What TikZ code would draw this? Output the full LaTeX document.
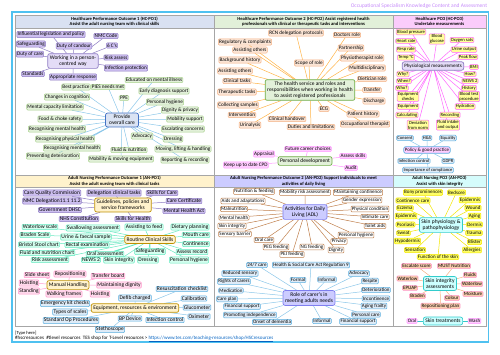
\documentclass[tikz,border=0pt]{standalone}
\usepackage{fontspec}
\setmainfont{Carlito}
\usepackage{xcolor}
\definecolor{osktitle}{HTML}{C58AF9}
\definecolor{oskframe}{HTML}{4FC1F0}
\definecolor{oskgrid}{HTML}{A6A6A6}
\definecolor{oskurl}{HTML}{0563C1}
\definecolor{oskhdA}{HTML}{D9E1F2}
\definecolor{oskhdB}{HTML}{E2F0D9}
\definecolor{oskhdC}{HTML}{FBCCFB}
\definecolor{oskhdD}{HTML}{FFF2CC}
\definecolor{oskhdE}{HTML}{CCCCFF}
\definecolor{oskhdF}{HTML}{D5FCFC}
\definecolor{oskviolet}{HTML}{8E7CC3}
\definecolor{oskvioletbg}{HTML}{CDBFF0}
\definecolor{oskblue}{HTML}{4472C4}
\definecolor{oskbluebg}{HTML}{DAE3F3}
\definecolor{oskgreen}{HTML}{70AD47}
\definecolor{oskgreenln}{HTML}{A9D18E}
\definecolor{oskgreenbg}{HTML}{E2F0D9}
\definecolor{oskorange}{HTML}{F4B183}
\definecolor{oskorangeln}{HTML}{FFB347}
\definecolor{oskorangebg}{HTML}{FBE5D6}
\definecolor{oskpink}{HTML}{FF99FF}
\definecolor{oskpinkbg}{HTML}{FFCCFF}
\definecolor{oskmagenta}{HTML}{FF66FF}
\definecolor{oskyellowbg}{HTML}{FFFF99}
\definecolor{oskskyln}{HTML}{5BAFE0}
\definecolor{oskskybg}{HTML}{DEEBF7}
\definecolor{oskgold}{HTML}{BF9000}
\definecolor{oskcream}{HTML}{FFF2CC}
\definecolor{oskmint}{HTML}{66E8C0}
\definecolor{oskmintbg}{HTML}{D5FFF0}
\definecolor{oskrose}{HTML}{FF99CC}
\definecolor{oskrosebg}{HTML}{FFD9EC}
\definecolor{osklav}{HTML}{7F7FEF}
\definecolor{osklavbg}{HTML}{CCCCFF}
\definecolor{oskbrown}{HTML}{C0804D}
\definecolor{oskcyan}{HTML}{33CCCC}
\definecolor{oskcyanbg}{HTML}{CCFFFF}
\definecolor{osklemon}{HTML}{F2E600}
\definecolor{osklemonbg}{HTML}{FFFF66}
\definecolor{oskpeachbg}{HTML}{F8CBAD}
\usetikzlibrary{backgrounds}
\tikzset{
  oskhub/.style={draw,rounded corners=2pt,align=center,inner sep=2pt,line width=0.7pt,font=\fontsize{5.5}{6}\selectfont},
  osksat/.style={draw,rounded corners=1pt,align=center,inner sep=0.8pt,line width=0.5pt,font=\fontsize{5.2}{5.4}\selectfont},
  oskhead/.style={draw=oskgrid,line width=0.6pt,align=center,inner sep=0.5pt,font=\bfseries\fontsize{4.6}{5.3}\selectfont},
  oskgridline/.style={draw=oskgrid,line width=0.6pt},
  oskedge/.style={line width=0.5pt},
  hubviolet/.style={oskhub,fill=oskvioletbg!55,draw=oskviolet},
  hubblue/.style={oskhub,fill=oskbluebg,draw=oskblue},
  hubgreen/.style={oskhub,fill=oskgreenbg,draw=oskgreen},
  hubpink/.style={oskhub,fill=oskpinkbg,draw=oskskyln},
  hubcream/.style={oskhub,fill=oskcream,draw=oskgold},
  hublav/.style={oskhub,fill=osklavbg,draw=osklav},
  hubcyan/.style={oskhub,fill=oskcyanbg,draw=oskcyan},
  satviolet/.style={osksat,fill=oskvioletbg,draw=oskviolet},
  satgreen/.style={osksat,fill=oskgreenbg,draw=oskgreenln},
  satorange/.style={osksat,fill=oskorangebg,draw=oskorange},
  satpink/.style={osksat,fill=oskpinkbg,draw=oskpink},
  satyellow/.style={osksat,fill=oskyellowbg,draw=oskmagenta},
  satsky/.style={osksat,fill=oskskybg,draw=oskskyln},
  satmint/.style={osksat,fill=oskmintbg,draw=oskmint},
  satrose/.style={osksat,fill=oskrosebg,draw=oskrose},
  satbrown/.style={osksat,fill=white,draw=oskbrown},
  satlemon/.style={osksat,fill=osklemonbg,draw=osklemon},
  satpeach/.style={osksat,fill=oskpeachbg,draw=oskrose},
  edgeviolet/.style={oskedge,draw=oskviolet},
  edgesky/.style={oskedge,draw=oskskyln!70},
  edgeorange/.style={oskedge,draw=oskorangeln},
  edgepink/.style={oskedge,draw=oskpink},
  edgemagenta/.style={oskedge,draw=oskmagenta},
  edgemint/.style={oskedge,draw=oskmint},
  edgerose/.style={oskedge,draw=oskrose},
  edgebrown/.style={oskedge,draw=oskbrown},
  edgelemon/.style={oskedge,draw=osklemon},
  edgepeach/.style={oskedge,draw=oskorange},
  edgecyan/.style={oskedge,draw=oskcyan},
}

\begin{document}
\begin{tikzpicture}[x=1pt,y=-1pt]
\useasboundingbox (0,0) rectangle (500,354);
 % frame, title and panels
\node[text=osktitle,font=\fontsize{5.5}{6}\selectfont] (ttl) at (419,6) {Occupational Specialism Knowledge Content and Assessment};
\draw[oskframe,line width=1.4pt] (12,12) rectangle (488.5,342);
\draw[oskgridline] (15,15) rectangle (486,326);
\draw[oskgridline] (214,15) -- (214,326) (393,15) -- (393,326) (15,175) -- (486,175);
\node[oskhead,fill=oskhdA,minimum width=199pt,minimum height=13pt] (hd1) at (114.5,21.5) {Healthcare Performance Outcome 1 (HC-PO1)\\Assist the adult nursing team with clinical skills};
\node[oskhead,fill=oskhdB,minimum width=179pt,minimum height=13pt] (hd2) at (303.5,21.5) {Healthcare Performance Outcome 2 (HC-PO2) Assist registered health\\professionals with clinical or therapeutic tasks and interventions};
\node[oskhead,fill=oskhdC,minimum width=93pt,minimum height=13pt] (hd3) at (439.5,21.5) {Healthcare PO3 (HC-PO3)\\Undertake measurements};
\node[oskhead,fill=oskhdD,minimum width=199pt,minimum height=12.5pt] (hd4) at (114.5,181.25) {Adult Nursing Performance Outcome 1 (AN-PO1)\\Assist the adult nursing team with clinical tasks};
\node[oskhead,fill=oskhdE,minimum width=179pt,minimum height=12.5pt] (hd5) at (303.5,181.25) {Adult Nursing Performance Outcome 2 (AN-PO2) Support individuals to meet\\activities of daily living};
\node[oskhead,fill=oskhdF,minimum width=93pt,minimum height=12.5pt] (hd6) at (439.5,181.25) {Adult Nursing PO3 (AN-PO3)\\Assist with skin integrity};

 % HC-PO1
\node[hubviolet] (wpc) at (73,61) {Working in a person-\\centred way};
\node[satviolet] (ilp) at (51,34.5) {Influential legislation and policy};
\node[satviolet] (nmc) at (106,36) {NMC Code};
\node[satviolet] (sfg) at (31,44) {Safeguarding};
\node[satviolet] (doc) at (74,46) {Duty of candour};
\node[satviolet] (sixc) at (112,45.5) {6 C's};
\node[satviolet] (dcare) at (30,54) {Duty of care};
\node[satviolet] (risk) at (116,57.5) {Risk assess};
\node[satviolet] (infp) at (126,68) {Infection protection};
\node[satviolet] (stds) at (33,74) {Standards};
\node[satviolet] (appr) at (73,77) {Appropriate response};
\node[hubblue,minimum width=33pt] (poc) at (122,120) {Provide\\overall care};
\node[satgreen] (edu) at (154,80) {Educated on mental illness};
\node[satgreen] (bestp) at (76,87) {Best practice};
\node[satgreen] (pies) at (108,87) {PIES needs met};
\node[satgreen] (early) at (164,91) {Early diagnosis support};
\node[satgreen] (cogn) at (67,97) {Changes in cognition};
\node[satgreen] (ppe) at (124,98) {PPE};
\node[satgreen] (phyg) at (165,102) {Personal hygiene};
\node[satgreen] (mcap) at (55,107) {Mental capacity limitation};
\node[satgreen] (dign) at (180,110) {Dignity \& privacy};
\node[satgreen] (food) at (60,119) {Food \& choke safety};
\node[satgreen] (mobs) at (185,119) {Mobility support};
\node[satgreen] (rmh) at (57,129) {Recognising mental health};
\node[satgreen] (esc) at (183,129) {Escalating concerns};
\node[satgreen] (rph) at (65,139) {Recognising physical health};
\node[satgreen] (advo) at (142,136) {Advocacy};
\node[satgreen] (dress) at (173,139) {Dressing};
\node[satgreen] (rmh2) at (72,148) {Recognising mental health};
\node[satgreen] (mlh) at (183,149) {Moving, lifting \& handling};
\node[satgreen] (fluid) at (129,150) {Fluid \& nutrition};
\node[satgreen] (prev) at (53,156) {Preventing deterioration};
\node[satgreen] (mme) at (121,159) {Mobility \& moving equipment};
\node[satgreen] (rep) at (185,160) {Reporting \& recording};

 % HC-PO2
\node[hubgreen,font=\fontsize{5.4}{6}\selectfont] (hsr) at (310,90) {The health service and roles and\\responsibilities when working in health\\to assist registered professionals};
\node[satorange] (rcn) at (296,33) {RCN delegation protocols};
\node[satorange] (docr) at (347,35) {Doctors role};
\node[satorange] (regc) at (245,42) {Regulatory \& complaints};
\node[satorange] (partn) at (351,48) {Partnership};
\node[satorange] (asso) at (250,50) {Assisting others};
\node[satorange] (bgh) at (240,60) {Background history};
\node[satorange] (physio) at (362,58) {Physiotherapist role};
\node[satorange] (scope) at (309,63) {Scope of role};
\node[satorange] (multi) at (367,68) {Multidisciplinary};
\node[satorange] (asso2) at (235,71) {Assisting others};
\node[satorange] (clint) at (237,81) {Clinical tasks};
\node[satorange] (diet) at (372,79) {Dietician role};
\node[satorange] (thert) at (237,92) {Therapeutic tasks};
\node[satorange] (trans) at (372,90) {Transfer};
\node[satorange] (colls) at (238,105) {Collecting samples};
\node[satorange] (ecg) at (324,109) {ECG};
\node[satorange] (disch) at (374,101) {Discharge};
\node[satorange] (interv) at (242,115) {Intervention};
\node[satorange] (clinh) at (287,119) {Clinical handover};
\node[satorange] (pathist) at (363,114) {Patient history};
\node[satorange] (urin) at (250,125) {Urinalysis};
\node[satorange] (duties) at (311,127) {Duties and limitations};
\node[satorange] (occt) at (365,124) {Occupational therapist};
\node[hubgreen] (pdev) at (305,161) {Personal development};
\node[satpink] (career) at (308,149) {Future career choices};
\node[satpink] (apprs) at (264,154) {Appraisal};
\node[satpink] (cpd) at (246,165) {Keep up to date CPD};
\node[satpink] (askill) at (353,156) {Assess skills};
\node[satpink] (audit) at (351,168) {Audit};

 % HC-PO3
\begin{scope}[osksat/.append style={font=\fontsize{4.6}{4.9}\selectfont}]
\node[hubviolet,font=\fontsize{5}{6}\selectfont] (phys) at (433,66) {Physiological measurements};
\node[satyellow] (bp) at (411,32) {Blood pressure};
\node[satyellow] (bgl) at (437,39) {Blood\\glucose};
\node[satyellow] (hr) at (406,41) {Heart rate};
\node[satyellow] (oxy) at (462,40) {Oxygen sats};
\node[satyellow] (resp) at (406,49.5) {Resp rate};
\node[satyellow] (urine) at (464,49.5) {Urine output};
\node[satyellow] (temp) at (406,57.5) {Temp °C};
\node[satyellow] (peak) at (468,57) {Peak flow};
\node[satyellow] (bmi) at (474,67) {BMI};
\node[satyellow] (why) at (403,74) {Why?};
\node[satyellow] (how) at (470,74) {How?};
\node[satyellow] (when) at (404,81) {When?};
\node[satyellow] (news) at (470,81) {NEWS 2};
\node[satyellow] (who) at (402,88) {Who?};
\node[satyellow] (hist) at (469,88) {History};
\node[satyellow] (eqc) at (408,96.5) {Equipment\\checks};
\node[satyellow] (btp) at (469,96.5) {Blood test\\procedure};
\node[satyellow] (equip) at (408,106.5) {Equipment};
\node[satyellow] (hydr) at (465,106.5) {Hydration};
\node[satyellow] (calc) at (407,115) {Calculating};
\node[satyellow] (recd) at (450,115) {Recording};
\node[satyellow] (devn) at (418,125) {Deviation\\from norm};
\node[satyellow] (fio) at (448,125) {Fluid intake\\and output};
\node[hubpink,font=\fontsize{4.9}{5.4}\selectfont,inner sep=1.2pt] (pgp) at (427,150) {Policy \& good practice};
\node[satsky] (cons) at (405,138) {Consent};
\node[satsky] (hs) at (427,138) {H\&S};
\node[satsky] (equal) at (448,138) {Equality};
\node[satsky] (infc) at (414,161) {Infection control};
\node[satsky] (gdpr) at (448,161) {GDPR};
\node[satsky] (impc) at (428,170) {Importance of compliance};
\end{scope}

 % AN-PO1
\begin{scope}[osksat/.append style={font=\fontsize{5.5}{5.8}\selectfont}]
\node[hubcream] (gpsf) at (123,205) {Guidelines, policies and\\service frameworks};
\node[satviolet] (cqc) at (52,193) {Care Quality Commission};
\node[satviolet] (dct) at (114,193) {Delegation clinical tasks};
\node[satviolet] (sfc) at (162,193) {Skills for Care};
\node[satviolet] (nmcd) at (52,201) {NMC Delegation11.1 11.2};
\node[satviolet] (ccert) at (184,201) {Care Certificate};
\node[satviolet] (dhsc) at (60,210) {Government DHSC};
\node[satviolet] (mha) at (184,211) {Mental Health Act};
\node[satviolet] (nhsc) at (79,219) {NHS Constitution};
\node[satviolet] (sfh) at (133,219) {Skills for Health};
\node[hubcream] (rcs) at (150,239.5) {Routine Clinical Skills};
\node[satmint] (wls) at (40,227) {Waterlow scale};
\node[satmint] (swal) at (93,228) {Swallowing assessment};
\node[satmint] (atf) at (144,227) {Assisting to feed};
\node[satmint] (dietp) at (190,227) {Dietary planning};
\node[satmint] (brad) at (35,235) {Braden Scale};
\node[satmint] (ufs) at (86,237) {Urine \& faecal sample};
\node[satmint] (mouth) at (196,235) {Mouth care};
\node[satmint] (bsc) at (39,244.5) {Bristol Stool chart};
\node[satmint] (rectal) at (87,245) {Rectal examination};
\node[satmint] (cont) at (196,244) {Continence};
\node[satmint] (fnc) at (47,253) {Fluid and nutrition chart};
\node[satmint] (orala) at (105,254) {Oral assessment};
\node[satmint] (safe2) at (150,251.5) {Safeguarding};
\node[satmint] (arec) at (192,252) {Assess record};
\node[satmint] (riska) at (50,260) {Risk assessment};
\node[satmint] (news2) at (91,260) {NEWS 2};
\node[satmint] (skin) at (119,260) {Skin integrity};
\node[satmint] (dress2) at (148,260) {Dressing};
\node[satmint] (phyg2) at (189,260) {Personal hygiene};
\node[hubcream] (manh) at (68,285) {Manual Handling};
\node[satrose] (slide) at (37,275) {Slide sheet};
\node[satrose] (repos) at (70,274) {Repositioning};
\node[satrose] (tboard) at (108,276) {Transfer board};
\node[satrose] (hoist) at (29,283) {Hoisting};
\node[satrose] (mdign) at (119,285) {Maintaining dignity};
\node[satrose] (stand) at (29,291) {Standing};
\node[satrose] (walk) at (64,294) {Walking frames};
\node[satrose] (hoist2) at (100,294) {Hoisting};
\node[hubcream] (ere) at (135,308) {Equipment, resources \& environment};
\node[satsky] (resus) at (182,289) {Resuscitation checklist};
\node[satsky] (defib) at (135,298) {Defib charged};
\node[satsky] (calib) at (194,298.5) {Calibration};
\node[satsky] (ekit) at (65,303.5) {Emergency kit checks};
\node[satsky] (gluc) at (197,307.5) {Glucometer};
\node[satsky] (scales) at (70,312) {Types of scales};
\node[satsky] (oxim) at (199,316.5) {Oximeter};
\node[satsky] (bpdev) at (130,318.5) {BP Device};
\node[satsky] (infc2) at (165,320) {Infection control};
\node[satsky] (sop) at (71,320.5) {Standard Op Procedures};
\node[satsky] (steth) at (110,329.5) {Stethoscope};
\end{scope}

 % AN-PO2
\begin{scope}[osksat/.append style={font=\fontsize{5}{5.3}\selectfont}]
\node[hublav] (adl) at (305,212) {Activities for Daily\\Living (ADL)};
\node[satbrown] (nutf) at (254,191.5) {Nutrition \& feeding};
\node[satbrown] (mra) at (305,192.5) {Mobility risk assessment};
\node[satbrown] (mcont) at (358,192.5) {Maintaining continence};
\node[satbrown] (aids) at (243,201) {Aids and adaptations};
\node[satbrown] (gender) at (362,200) {Gender expression};
\node[satbrown] (maln) at (234,209) {Malnutrition};
\node[satbrown] (physc) at (370,209) {Physical condition};
\node[satbrown] (menth) at (234,217.5) {Mental health};
\node[satbrown] (intim) at (375,217) {Intimate care};
\node[satbrown] (skin2) at (232,226) {Skin integrity};
\node[satbrown] (toilet) at (375,226) {Toilet aids};
\node[satbrown] (sens) at (235,234) {Sensory barrier};
\node[satbrown] (oralc) at (264,240) {Oral care};
\node[satbrown] (phyg3) at (356,235) {Personal hygiene};
\node[satbrown] (peg) at (276,247) {PEG feeding};
\node[satbrown] (ng) at (312,247) {NG feeding};
\node[satbrown] (priv) at (339,241.5) {Privacy};
\node[satbrown] (dign2) at (336,250) {Dignity};
\node[satbrown] (pej) at (292,254.5) {PEJ feeding};
\node[hublav] (role) at (309,298) {Role of carer's in\\meeting adults needs};
\node[satsky] (c247) at (257,265) {24/7 care};
\node[satsky] (hsca) at (311,265) {Health \& Social Care Act Regulation 9};
\node[satsky] (redsen) at (240,273.5) {Reduced sensory};
\node[satsky] (formal) at (298,280) {Formal};
\node[satsky] (informal) at (327,279.5) {Informal};
\node[satsky] (advo2) at (359,273.5) {Advocacy};
\node[satsky] (rights) at (234,281.5) {Rights of carers};
\node[satsky] (respite) at (370,281) {Respite};
\node[satsky] (medic) at (231,290.5) {Medication};
\node[satsky] (deter) at (376,290) {Deterioration};
\node[satsky] (cplan) at (227,299) {Care plan};
\node[satsky] (incont) at (376,298.5) {Incontinence};
\node[satsky] (finsup) at (242,306.5) {Financial support};
\node[satsky] (aging) at (374,306) {Aging frailty};
\node[satsky] (promi) at (250,315) {Promoting independence};
\node[satsky] (pcare) at (366,314.5) {Personal care};
\node[satsky] (onset) at (272,322) {Onset of dementia};
\node[satsky] (informal2) at (322,321) {Informal};
\node[satsky] (finsup2) at (358,321.5) {Financial support};

 % AN-PO3
\node[hubcyan] (skinpp) at (441,225) {Skin physiology \&\\pathophysiology};
\node[satlemon] (bony) at (423,192.5) {Bony prominences};
\node[satlemon] (bedsore) at (456.5,192.5) {Bedsore};
\node[satlemon] (ccare) at (413,200.5) {Continence care};
\node[satlemon] (epi) at (470,200) {Epidermis};
\node[satlemon] (ecz) at (405,208) {Eczema};
\node[satlemon] (wound) at (473,208) {Wound};
\node[satlemon] (epi2) at (406,216) {Epidermis};
\node[satlemon] (aging2) at (474.5,216) {Aging};
\node[satlemon] (psor) at (405.5,224.5) {Psoriasis};
\node[satlemon] (dermis) at (474.5,224.5) {Dermis};
\node[satlemon] (sweat) at (403.5,233) {Sweat};
\node[satlemon] (trauma) at (474,233) {Trauma};
\node[satlemon] (hypo) at (407.5,241) {Hypodermis};
\node[satlemon] (blister) at (474.5,242) {Blister};
\node[satlemon] (sensn) at (415,250) {Sensation};
\node[satlemon] (allerg) at (472,250) {Allergies};
\node[satlemon] (fskin) at (438,257) {Function of the skin};
\node[hubcyan] (sia) at (440,283.5) {Skin integrity\\assessments};
\node[satpeach] (escs) at (416.5,266) {Escalate score};
\node[satpeach] (must) at (454,266) {MUST Nutrition};
\node[satpeach] (fluids) at (470,275) {Fluids};
\node[satpeach] (wlow) at (407.5,278.5) {Waterlow};
\node[satpeach] (wlow2) at (472,284) {Waterlow};
\node[satpeach] (epuap) at (410,288) {EPUAP};
\node[satpeach] (moist) at (473,294) {Moisture};
\node[satpeach] (braden2) at (417.5,296) {Braden};
\node[satpeach] (colour) at (452,298) {Colour};
\node[satpeach] (rplan) at (440.5,306) {Repositioning plan};
\node[hubcyan] (sktr) at (443,321) {Skin treatments};
\node[satpink] (oralt) at (412,321) {Oral};
\node[satpink] (wash) at (474.5,321) {Wash};
\end{scope}

 % footer
\node[anchor=west,inner sep=0pt,font=\fontsize{4.6}{5}\selectfont] (typeh) at (15,333) {[Type here]};
\node[anchor=west,inner sep=0pt,font=\fontsize{5}{5.5}\selectfont] (tags) at (15,339) {\#hscresources\ \ \#tlevel resources\ \ TES shop for T-Level resources > \textcolor{oskurl}{\underline{https://www.tes.com/teaching-resources/shop/HSCresources}}};

 % connectors
\begin{scope}[on background layer]
\draw[edgeviolet] (wpc)--(ilp) (wpc)--(nmc) (wpc)--(sfg) (wpc)--(doc) (wpc)--(sixc) (wpc)--(dcare) (wpc)--(risk) (wpc)--(infp) (wpc)--(stds) (wpc)--(appr);
\draw[edgesky] (poc)--(edu) (poc)--(bestp) (poc)--(pies) (poc)--(early) (poc)--(cogn) (poc)--(ppe) (poc)--(phyg) (poc)--(mcap) (poc)--(dign) (poc)--(food) (poc)--(mobs);
\draw[edgesky] (poc)--(rmh) (poc)--(esc) (poc)--(rph) (poc)--(advo) (poc)--(dress) (poc)--(rmh2) (poc)--(mlh) (poc)--(fluid) (poc)--(prev) (poc)--(mme) (poc)--(rep);
\draw[edgeorange] (hsr)--(rcn) (hsr)--(docr) (hsr)--(regc) (hsr)--(partn) (hsr)--(asso) (hsr)--(bgh) (hsr)--(physio) (hsr)--(scope) (hsr)--(multi) (hsr)--(asso2) (hsr)--(clint) (hsr)--(diet);
\draw[edgeorange] (hsr)--(thert) (hsr)--(trans) (hsr)--(colls) (hsr)--(ecg) (hsr)--(disch) (hsr)--(interv) (hsr)--(clinh) (hsr)--(pathist) (hsr)--(urin) (hsr)--(duties) (hsr)--(occt);
\draw[edgepink] (pdev)--(career) (pdev)--(apprs) (pdev)--(cpd) (pdev)--(askill) (pdev)--(audit);
\draw[edgemagenta] (phys)--(bp) (phys)--(bgl) (phys)--(hr) (phys)--(oxy) (phys)--(resp) (phys)--(urine) (phys)--(temp) (phys)--(peak) (phys)--(bmi) (phys)--(why) (phys)--(how) (phys)--(when);
\draw[edgemagenta] (phys)--(news) (phys)--(who) (phys)--(hist) (phys)--(eqc) (phys)--(btp) (phys)--(equip) (phys)--(hydr) (phys)--(calc) (phys)--(recd) (phys)--(devn) (phys)--(fio);
\draw[edgesky] (pgp)--(cons) (pgp)--(hs) (pgp)--(equal) (pgp)--(infc) (pgp)--(gdpr) (pgp)--(impc);
\draw[edgeviolet] (gpsf)--(cqc) (gpsf)--(dct) (gpsf)--(sfc) (gpsf)--(nmcd) (gpsf)--(ccert) (gpsf)--(dhsc) (gpsf)--(mha) (gpsf)--(nhsc) (gpsf)--(sfh);
\draw[edgemint] (rcs)--(wls) (rcs)--(swal) (rcs)--(atf) (rcs)--(dietp) (rcs)--(brad) (rcs)--(ufs) (rcs)--(mouth) (rcs)--(bsc) (rcs)--(rectal) (rcs)--(cont);
\draw[edgemint] (rcs)--(fnc) (rcs)--(orala) (rcs)--(safe2) (rcs)--(arec) (rcs)--(riska) (rcs)--(news2) (rcs)--(skin) (rcs)--(dress2) (rcs)--(phyg2);
\draw[edgerose] (manh)--(slide) (manh)--(repos) (manh)--(tboard) (manh)--(hoist) (manh)--(mdign) (manh)--(stand) (manh)--(walk) (manh)--(hoist2);
\draw[edgesky] (ere)--(resus) (ere)--(defib) (ere)--(calib) (ere)--(ekit) (ere)--(gluc) (ere)--(scales) (ere)--(oxim) (ere)--(bpdev) (ere)--(infc2) (ere)--(sop) (ere)--(steth);
\draw[edgebrown] (adl)--(nutf) (adl)--(mra) (adl)--(mcont) (adl)--(aids) (adl)--(gender) (adl)--(maln) (adl)--(physc) (adl)--(menth) (adl)--(intim) (adl)--(skin2);
\draw[edgebrown] (adl)--(toilet) (adl)--(sens) (adl)--(oralc) (adl)--(phyg3) (adl)--(peg) (adl)--(ng) (adl)--(priv) (adl)--(dign2) (adl)--(pej);
\draw[edgesky] (role)--(c247) (role)--(hsca) (role)--(redsen) (role)--(formal) (role)--(informal) (role)--(advo2) (role)--(rights) (role)--(respite) (role)--(medic) (role)--(deter);
\draw[edgesky] (role)--(cplan) (role)--(incont) (role)--(finsup) (role)--(aging) (role)--(promi) (role)--(pcare) (role)--(onset) (role)--(informal2) (role)--(finsup2);
\draw[edgelemon] (skinpp)--(bony) (skinpp)--(bedsore) (skinpp)--(ccare) (skinpp)--(epi) (skinpp)--(ecz) (skinpp)--(wound) (skinpp)--(epi2) (skinpp)--(aging2);
\draw[edgelemon] (skinpp)--(psor) (skinpp)--(dermis) (skinpp)--(sweat) (skinpp)--(trauma) (skinpp)--(hypo) (skinpp)--(blister) (skinpp)--(sensn) (skinpp)--(allerg) (skinpp)--(fskin);
\draw[edgepeach] (sia)--(escs) (sia)--(must) (sia)--(fluids) (sia)--(wlow) (sia)--(wlow2) (sia)--(epuap) (sia)--(moist) (sia)--(braden2) (sia)--(colour) (sia)--(rplan);
\draw[edgecyan] (sktr)--(oralt) (sktr)--(wash);
\end{scope}
\end{tikzpicture}
\end{document}
